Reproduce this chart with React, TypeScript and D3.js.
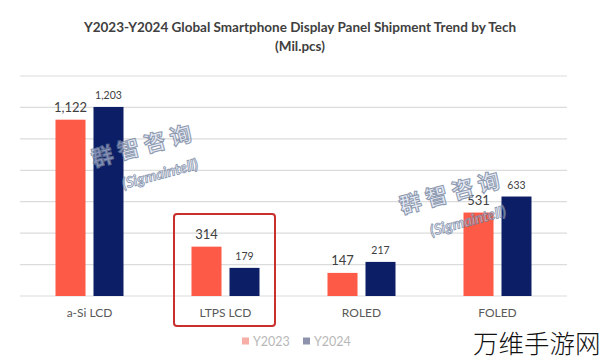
import * as d3 from "d3";

const categories = ["a-Si LCD", "LTPS LCD", "ROLED", "FOLED"];
const seriesNames = ["Y2023", "Y2024"];
const y2023 = [1122, 314, 147, 531];
const y2024 = [1203, 179, 217, 633];
const yTicks = [0, 200, 400, 600, 800, 1000, 1200, 1400];

const W = 600;
const H = 363;
const CORAL = "#fd5b48";
const NAVY = "#0c1e66";
const TEXT = "#404040";
const GRID = "#dcdcdc";
const BOX = "#c9302c";

export default function App() {
  const x = d3.scaleBand().domain(categories).range([21.5, 565.5]);
  const xs = d3
    .scaleBand()
    .domain(seriesNames)
    .range([0, x.bandwidth()])
    .paddingInner(0.21)
    .paddingOuter(0.895);
  const y = d3.scaleLinear().domain([0, 1400]).range([296, 76]);
  const fmt = d3.format(",");

  const rows = categories.map((c, i) => ({ cat: c, vals: [y2023[i], y2024[i]] }));
  const colors = [CORAL, NAVY];

  // highlight box around LTPS LCD
  const ltpsX = x("LTPS LCD")!;

  return (
    <svg
      width={W}
      height={H}
      style={{ position: "absolute", left: 0, top: 0, background: "#fff" }}
      fontFamily="Lato, 'Open Sans', sans-serif"
    >
      <text x={W / 2} y={32} textAnchor="middle" fontSize={13.5} fontWeight={700} fill={TEXT}>
        Y2023-Y2024 Global Smartphone Display Panel Shipment Trend by Tech
      </text>
      <text x={W / 2} y={51} textAnchor="middle" fontSize={13.5} fontWeight={700} fill={TEXT}>
        (Mil.pcs)
      </text>

      {/* gridlines */}
      {yTicks.map((t) => (
        <line key={t} x1={20} x2={567} y1={y(t)} y2={y(t)} stroke={GRID} strokeWidth={1.2} />
      ))}

      {/* bars */}
      {rows.map((r) => (
        <g key={r.cat} transform={`translate(${x(r.cat)},0)`}>
          {r.vals.map((v, j) => (
            <rect
              key={j}
              x={xs(seriesNames[j])}
              y={y(v)}
              width={xs.bandwidth()}
              height={y(0) - y(v)}
              fill={colors[j]}
            />
          ))}
          {r.vals.map((v, j) => (
            <text
              key={"l" + j}
              x={xs(seriesNames[j])! + xs.bandwidth() / 2}
              y={y(v) - 8}
              textAnchor="middle"
              fontSize={j === 0 ? 13 : 10.5}
              fill={TEXT}
            >
              {fmt(v)}
            </text>
          ))}
          <text x={x.bandwidth() / 2} y={317} textAnchor="middle" fontSize={12} fill="#595959">
            {r.cat}
          </text>
        </g>
      ))}

      <rect
        x={ltpsX + 16.5}
        y={214}
        width={x.bandwidth() - 35}
        height={112}
        rx={3}
        fill="none"
        stroke={BOX}
        strokeWidth={2}
      />

      {/* legend */}
      {seriesNames.map((s, i) => (
        <g key={s} transform={`translate(${242 + i * 61},341)`}>
          <rect x={0} y={-3.5} width={7} height={7} fill={i === 0 ? "#f6aea6" : "#8d93ad"} />
          <text x={11} y={4.5} fontSize={12.5} fill="#b8b8b8">
            {s}
          </text>
        </g>
      ))}

      {/* watermarks */}
      {[
        [146, 153],
        [454, 200],
      ].map(([cx, cy], i) => (
        <g key={i} transform={`translate(${cx},${cy}) rotate(-15)`} opacity={0.8}>
          <text
            x={0}
            y={0}
            textAnchor="middle"
            fontSize={22}
            fontWeight={700}
            fontFamily="'Noto Sans CJK SC', sans-serif"
            fill="rgba(215,222,238,0.75)"
            stroke="#6f7f9c"
            strokeWidth={1}
            letterSpacing={5}
          >
            群智咨询
          </text>
          <text
            x={8}
            y={29}
            textAnchor="middle"
            fontSize={15}
            fontWeight={700}
            fontStyle="italic"
            fill="rgba(215,222,238,0.75)"
            stroke="#6f7f9c"
            strokeWidth={0.8}
          >
            (Sigmaintell)
          </text>
        </g>
      ))}

      <text
        x={473}
        y={353}
        fontSize={25.5}
        fontWeight={300}
        fontFamily="'Noto Sans CJK SC', sans-serif"
        fill="#111"
      >
        万维手游网
      </text>
    </svg>
  );
}
